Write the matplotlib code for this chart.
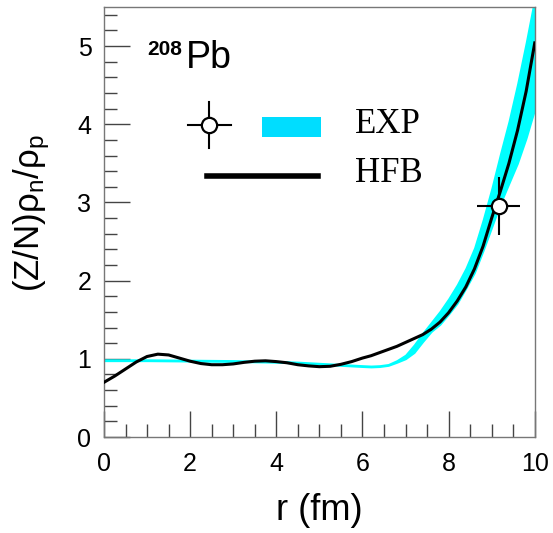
import numpy as np
import matplotlib.pyplot as plt
import matplotlib.patches as patches
from matplotlib.ticker import MultipleLocator

plt.rcParams['font.family'] = ['Liberation Sans', 'DejaVu Sans']
plt.rcParams['mathtext.fontset'] = 'custom'
plt.rcParams['mathtext.rm'] = 'Liberation Sans'
plt.rcParams['mathtext.it'] = 'Liberation Sans'

# HFB calculation
r_hfb = [0.0, 0.25, 0.5, 0.75, 1.0, 1.25, 1.5, 1.75, 2.0, 2.25, 2.5, 2.75,
         3.0, 3.25, 3.5, 3.75, 4.0, 4.25, 4.5, 4.75, 5.0, 5.25, 5.5, 5.75,
         6.0, 6.2, 6.4, 6.6, 6.8, 7.0, 7.2, 7.4, 7.6, 7.8, 8.0, 8.2, 8.4,
         8.6, 8.8, 9.0, 9.2, 9.4, 9.6, 9.8, 10.0]
hfb = [0.70, 0.78, 0.87, 0.96, 1.03, 1.06, 1.05, 1.01, 0.97, 0.94, 0.925, 0.925,
       0.935, 0.955, 0.97, 0.975, 0.965, 0.95, 0.925, 0.91, 0.90, 0.905, 0.93, 0.965,
       1.01, 1.04, 1.08, 1.12, 1.16, 1.21, 1.26, 1.31, 1.38, 1.47, 1.59, 1.74, 1.92,
       2.15, 2.44, 2.80, 3.14, 3.50, 3.92, 4.42, 5.04]

# experimental band
r_exp = [0.0, 1.0, 2.0, 3.0, 4.0, 4.5, 5.0, 5.5, 6.0, 6.2, 6.4, 6.6, 6.8,
         7.0, 7.2, 7.4, 7.6, 7.8, 8.0, 8.2, 8.4, 8.6, 8.8, 9.0, 9.2, 9.4,
         9.6, 9.8, 10.0]
exp_hi = [0.99, 0.99, 0.985, 0.98, 0.97, 0.96, 0.945, 0.93, 0.915, 0.91, 0.915, 0.93, 0.98,
          1.05, 1.18, 1.33, 1.47, 1.61, 1.77, 1.95, 2.16, 2.42, 2.78, 3.18, 3.62, 4.04,
          4.52, 5.05, 5.62]
exp_lo = [0.975, 0.975, 0.97, 0.965, 0.955, 0.945, 0.93, 0.915, 0.90, 0.895, 0.90, 0.915, 0.955,
          1.00, 1.08, 1.22, 1.35, 1.44, 1.57, 1.71, 1.90, 2.10, 2.38, 2.68, 2.98, 3.24,
          3.50, 3.82, 4.19]

# data point
pt_r, pt_v = 9.16, 2.95
pt_dr, pt_dv = 0.5, 0.37

fig = plt.figure(figsize=(5.53, 5.33), dpi=100)
ax = fig.add_axes([0.188, 0.180, 0.779, 0.807])

ax.fill_between(r_exp, exp_lo, exp_hi, color='#00ffff', lw=1.2, edgecolor='#00ffff', zorder=2)
ax.plot(r_hfb, hfb, color='black', lw=2.2, zorder=3)
ax.errorbar([pt_r], [pt_v], xerr=[pt_dr], yerr=[pt_dv], fmt='o', ms=11,
            mfc='white', mec='black', mew=1.6, ecolor='black', elinewidth=1.5,
            capsize=0, zorder=4)

ax.set_xlim(0, 10)
ax.set_ylim(0, 5.5)
ax.xaxis.set_major_locator(MultipleLocator(2))
ax.xaxis.set_minor_locator(MultipleLocator(0.5))
ax.yaxis.set_major_locator(MultipleLocator(1))
ax.yaxis.set_minor_locator(MultipleLocator(0.2))
ax.tick_params(which='both', direction='in', top=False, right=False,
               color='#444444', width=1.0, labelsize=18)
ax.tick_params(which='major', length=18.5)
ax.tick_params(which='minor', length=9.5)
ax.tick_params(axis='x', pad=11)
ax.tick_params(axis='y', pad=9)
for s in ax.spines.values():
    s.set_color('#777777')
    s.set_linewidth(1.0)

ax.set_xlabel('r (fm)', fontsize=26, labelpad=12)
ax.set_ylabel(r'(Z/N)$\mathrm{\rho_n/\rho_p}$', fontsize=25)
ax.yaxis.set_label_coords(-0.12, 0.52)

# nucleus label
ax.text(0.100, 0.888, '208', transform=ax.transAxes, fontsize=15, fontweight='bold',
        ha='left', va='baseline')
ax.text(0.190, 0.858, 'Pb', transform=ax.transAxes, fontsize=27, ha='left',
        va='baseline')

# legend
ax.add_patch(patches.Rectangle((0.195, 0.558), 0.554, 0.226, transform=ax.transAxes,
                               facecolor='white', edgecolor='none', zorder=5))
ax.plot([0.244], [0.726], 'o', ms=11, mfc='white', mec='black', mew=1.6,
        transform=ax.transAxes, zorder=7)
ax.plot([0.194, 0.294], [0.726, 0.726], color='black', lw=1.5,
        transform=ax.transAxes, zorder=6)
ax.plot([0.244, 0.244], [0.672, 0.780], color='black', lw=1.5,
        transform=ax.transAxes, zorder=6)
ax.add_patch(patches.Rectangle((0.367, 0.698), 0.136, 0.046, transform=ax.transAxes,
                               facecolor='#00ddff', edgecolor='none', zorder=6))
ax.plot([0.240, 0.496], [0.607, 0.607], color='black', lw=4,
        transform=ax.transAxes, zorder=6)
ax.text(0.582, 0.726, 'EXP', transform=ax.transAxes, fontsize=25,
        family='Liberation Serif', ha='left', va='center', zorder=7)
ax.text(0.582, 0.612, 'HFB', transform=ax.transAxes, fontsize=25,
        family='Liberation Serif', ha='left', va='center', zorder=7)

fig.savefig('out.png', dpi=100)
